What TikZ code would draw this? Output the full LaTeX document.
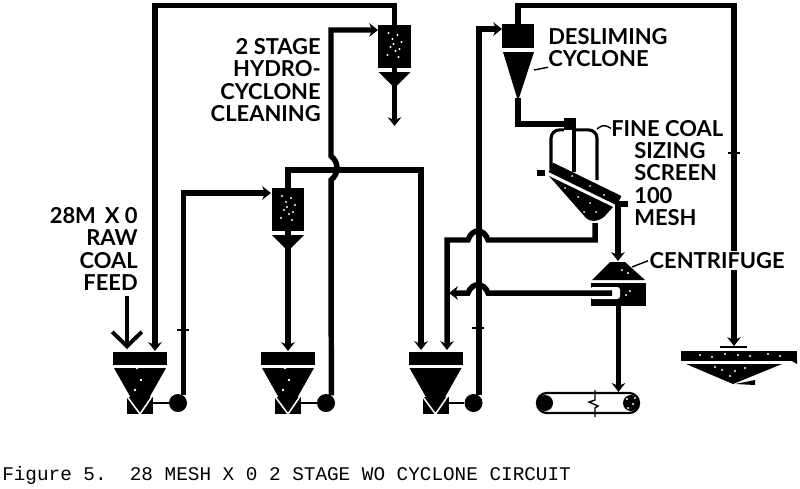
\documentclass[tikz,border=0pt]{standalone}
\usepackage{fontspec}
\setmainfont{Lato}
\newfontfamily\capfont{Liberation Mono}
\usetikzlibrary{arrows.meta,positioning,calc}

\begin{document}
\begin{tikzpicture}[x=0.025cm,y=-0.025cm,
  block/.style={fill=black, draw=none, inner sep=0pt},
  pump/.style={circle, fill=black, draw=none, inner sep=0pt, minimum size=0.45cm},
  flowtick/.style={block, minimum width=0.32cm, minimum height=0.05cm},
  pipe/.style={line width=3.9pt, black},
  pipein/.style={pipe, -{Stealth[length=2.2mm,width=3.4mm]}},
  branch/.style={line width=2.2pt, black, rounded corners=6pt},
  lead/.style={line width=1pt, black},
  lab/.style={font=\fontsize{15.6}{16}\selectfont\bfseries, inner sep=0pt},
  speck/.style={fill=white, draw=none}]
  \useasboundingbox (0,0) rectangle (800,488);
  % hoppers and pumps
  \foreach \n/\x in {A/140,B/288,C/435.5}{
    \node[block, minimum width=1.35cm, minimum height=0.33cm] (hop\n) at (\x,358.5) {};
    \fill (\x-26,368) -- (\x+26,368) -- (\x,414) -- cycle;
    \fill (\x-13,397) rectangle (\x+13,414);
    \draw[white, line width=1.1pt] (\x-14,395) -- (\x,414) -- (\x+13,395);
    \node[pump] (pump\n) at (\x+38,403) {};
    \draw[lead, line width=1.4pt] (\x+13,403) -- (pump\n);
  }
  % hydrocyclones
  \foreach \n/\x/\y in {A/394.5/25, B/288/188}{
    \node[block, minimum width=0.82cm, minimum height=1.08cm] (cyc\n) at (\x,\y+21.5) {};
    \fill (\x-16,\y+47) -- (\x+16,\y+47) -- (\x+3,\y+60) -- (\x-3,\y+60) -- cycle;
    \foreach \a/\b in {-6/8,-2/14,3/10,7/17,-4/22,1/26,5/24,-7/30,-1/19,4/32}
      \fill[speck] (\x+\a,\y+\b) circle (1.1);
  }
  \foreach \a/\b in {-3/368,1/380,-5/390}{
    \fill[speck] (140+\a,\b) circle (1.4);
    \fill[speck] (288+\a,\b) circle (1.4);
  }
  % desliming cyclone
  \node[block, minimum width=0.8cm, minimum height=0.6cm] (des) at (518,36) {};
  \fill (503,52) -- (534,52) -- (518,101) -- cycle;
  \node[block, minimum size=0.28cm] (dist) at (570,124) {};
  % sizing screen
  \node[block, rotate=-26, minimum width=1.9cm, minimum height=0.26cm] (scr) at (585,184) {};
  \fill (549,176) -- (613,207) -- (604,217) .. controls (597,222) and (590,222) .. (586,218) -- cycle;
  \foreach \a/\b in {565/188,578/197,590/203,584/212,596/212,572/176,590/186,604/195}
    \fill[speck] (\a,\b) circle (1);
  \node[block, minimum width=0.18cm, minimum height=0.13cm] (blob) at (541,173) {};
  % centrifuge
  \node[block, minimum width=1.375cm, minimum height=0.575cm] (cent) at (618.5,294.5) {};
  \fill (610,262) -- (625,262) -- (645,280) -- (592,280) -- cycle;
  \fill[white, rounded corners=2pt] (590,287) rectangle (620,299);
  \foreach \a/\b in {622/270,628/273,630/291,626/295}
    \fill[speck] (\a,\b) circle (1.2);
  % product belt
  \node[draw, line width=1.6pt, rounded corners=7pt, minimum width=2.55cm, minimum height=0.5cm, inner sep=0pt] (belt) at (588,403) {};
  \node[pump, minimum size=0.4cm] (pulL) at (545,403) {};
  \node[pump, minimum size=0.4cm] (pulR) at (631,403) {};
  \foreach \a/\b in {627/399,633/404,628/408,635/398}
    \fill[speck] (\a,\b) circle (1.2);
  \draw[lead] (595,390) -- (595,400) -- (589,402) -- (598,406) -- (595,408) -- (595,417);
  % thickener
  \node[block, minimum width=2.9cm, minimum height=0.25cm] (thick) at (739,356) {};
  \fill (790,360) -- (797,360) -- (797,364) -- cycle;
  \fill (686,364) -- (782,364) -- (733,384) -- cycle;
  \fill (735,384) -- (755,380) -- (755,385) -- cycle;
  \node[block, minimum width=0.68cm, minimum height=0.05cm] (weir) at (733.5,347) {};
  \foreach \a/\b in {700/355,712/357,725/354,738/355,750/356,768/354,780/356,722/370,735/371,745/368,730/376,715/367}
    \fill[speck] (\a,\b) circle (1.1);
  % inlets
  \coordinate (inHopA) at (155,351);
  \coordinate (inCycB) at (271,193);
  \coordinate (inHopB) at (288,351);
  \coordinate (inHopC) at (421,350);
  \coordinate (inHopD) at (447,350);
  \coordinate (inCycA) at (378,30);
  \coordinate (inDes) at (502,29);
  \coordinate (inThick) at (734,346);
  \coordinate (inCent) at (618,261);
  \coordinate (outA) at (394.5,126);
  \coordinate (raw) at (127,296);
  \coordinate (rawEnd) at (127,349);
  % circuit
  \draw[pipein] (cycA.north) -- ++(0,-19) -| (inHopA);
  \draw[pipein] (pumpA.55) |- (inCycB);
  \draw[pipein] (cycB.south) -- (inHopB);
  \draw[pipein] (cycB.north) -- (288,170) -| (inHopC);
  \draw[pipein] (pumpB.55) -- (331,180) .. controls (339,174) and (339,162) .. (331,156) |- (inCycA);
  \draw[pipein] (pumpC.55) |- (inDes);
  \draw[pipein] (des.north) -- ++(0,-18) -| (inThick);
  \draw[pipein] (cycA.south) -- (outA);
  \draw[pipe] (518,98) |- (dist);
  \draw[pipein] (595,223) |- (488,240) .. controls (484,228) and (472,228) .. (468,240) -| (inHopD);
  \draw[pipein] (612,293) -- (488,293) .. controls (484,282) and (472,282) .. (468,293) -- (449,293);
  \draw[pipein] (628,204) -| (inCent);
  \draw[pipein] (cent.south) -- (belt.north -| cent.south);
  \draw[branch] (551,169) |- (dist.south west);
  \draw[branch] (597,180) |- (dist.south east);
  \draw[branch] (574,130) -- (574,172);
  \draw[pipein, line width=2.8pt, -{Straight Barb[length=3.6mm,width=7.4mm]}] (raw) -- (rawEnd);
  % flow ticks
  \node[flowtick] (tickC) at (478,328) {};
  \node[flowtick] (tickA) at (183,330) {};
  \node[flowtick] (tickT) at (734,153) {};
  % labels
  \node[lab, align=right, anchor=north east] (rawlab) at (138,207) {28M\, X 0\\RAW\\COAL\\FEED};
  \node[lab, align=right, anchor=north east] (hydro) at (321,38) {2 STAGE\\HYDRO-\\CYCLONE\\CLEANING};
  \node[lab, align=left, anchor=north west] (deslab) at (548,28) {DESLIMING\\CYCLONE};
  \node[lab, anchor=north west] (fine) at (611,120) {FINE COAL};
  \node[lab, align=left, anchor=north west] (sizing) at (634,142) {SIZING\\SCREEN\\100\\MESH};
  \node[lab, anchor=north west, fill=white, inner sep=1pt] (centlab) at (648,251) {CENTRIFUGE};
  \draw[lead] (534,70) -- (deslab.south west);
  \draw[lead] (597,129) .. controls (600,127) and (603,123) .. (fine.west);
  \draw[lead] (632,267) -- (centlab.west);
  \node[anchor=west, inner sep=0pt, font=\capfont\fontsize{13.75}{14}\selectfont] (caption) at (2,475) {Figure 5.~~28 MESH X 0 2 STAGE WO CYCLONE CIRCUIT};
\end{tikzpicture}
\end{document}
